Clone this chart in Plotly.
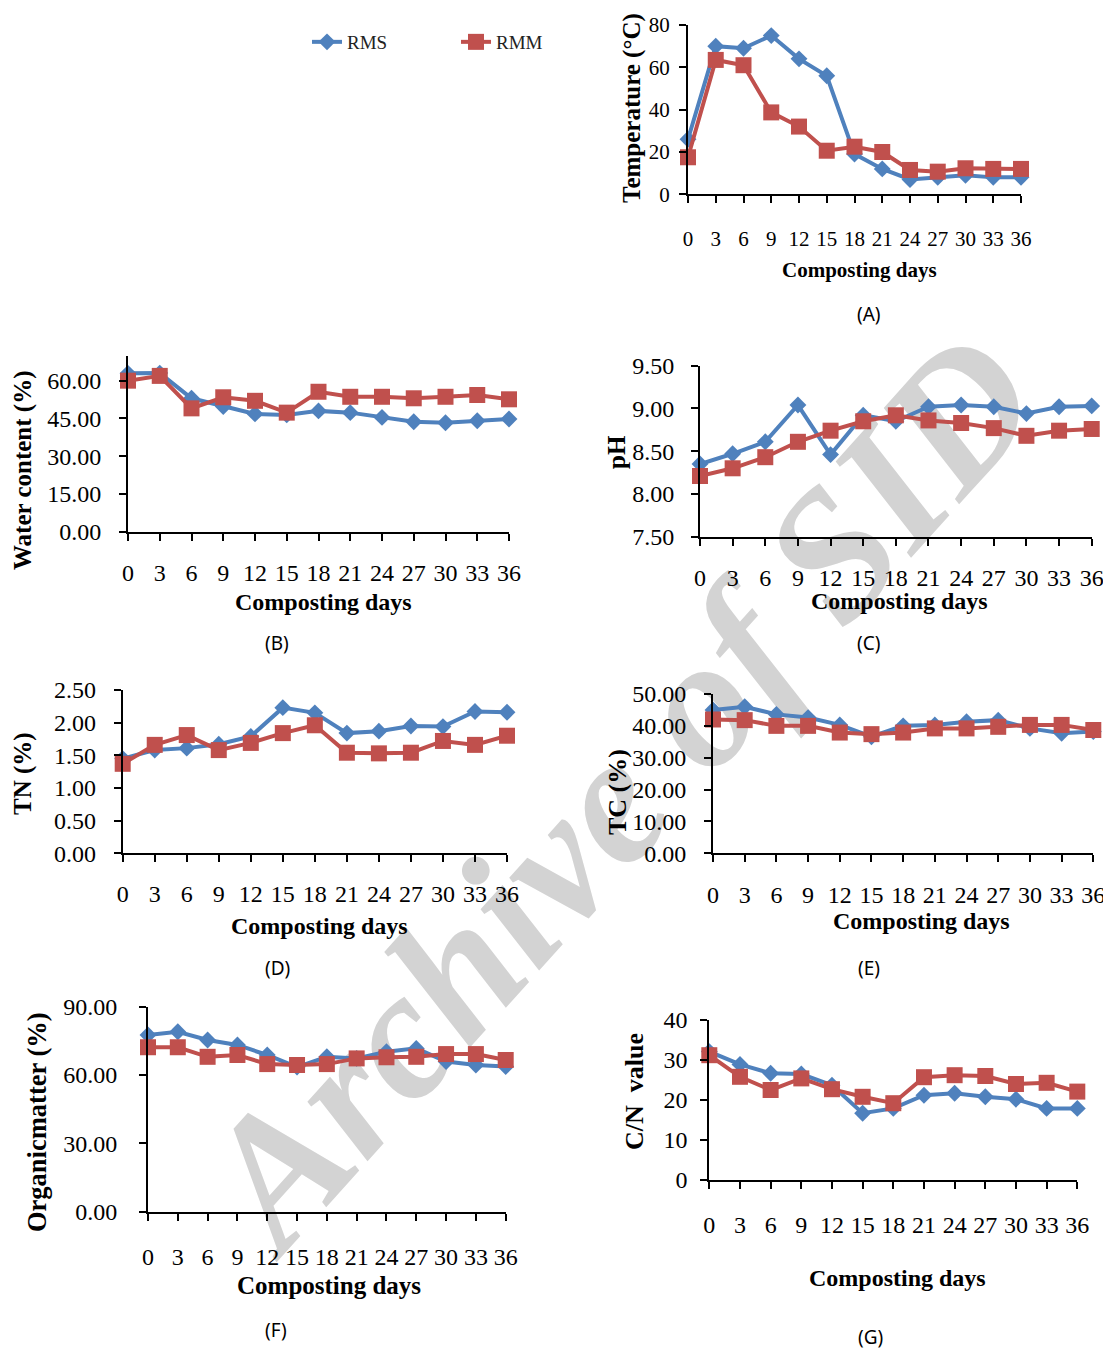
import plotly.graph_objects as go

# page is rendered with an 8px body margin: the figure covers (8..1111, 8..1349)
OFF = 8
W, H = 1111 - OFF, 1349 - OFF

days = [0, 3, 6, 9, 12, 15, 18, 21, 24, 27, 30, 33, 36]

temp_rms = [26, 70, 69, 75, 64, 56, 19, 12, 7, 8, 9, 8, 8]
temp_rmm = [17.5, 63.5, 61, 38.7, 32, 20.6, 22.5, 20, 11.5, 10.7, 12.3, 12, 12]

water_rms = [62.9, 63.0, 53.0, 49.7, 46.8, 46.4, 48.0, 47.3, 45.4, 43.7, 43.3, 44.1, 44.8]
water_rmm = [60.0, 61.9, 49.0, 53.4, 52.0, 47.3, 55.6, 53.6, 53.6, 53.0, 53.6, 54.3, 52.6]

ph_rms = [8.35, 8.47, 8.61, 9.04, 8.46, 8.92, 8.85, 9.02, 9.04, 9.02, 8.94, 9.02, 9.03]
ph_rmm = [8.21, 8.30, 8.43, 8.61, 8.74, 8.85, 8.92, 8.86, 8.83, 8.77, 8.68, 8.74, 8.76]

tn_rms = [1.45, 1.58, 1.61, 1.67, 1.79, 2.23, 2.15, 1.84, 1.87, 1.95, 1.94, 2.17, 2.16]
tn_rmm = [1.37, 1.66, 1.81, 1.58, 1.69, 1.84, 1.96, 1.54, 1.53, 1.54, 1.72, 1.66, 1.80]

tc_rms = [45.0, 46.0, 43.6, 42.6, 40.3, 36.6, 40.0, 40.3, 41.3, 41.8, 39.2, 37.7, 38.2]
tc_rmm = [42.0, 41.8, 40.0, 40.0, 37.9, 37.4, 37.9, 39.2, 39.2, 39.7, 40.3, 40.3, 38.7]

om_rms = [77.6, 79.0, 75.4, 73.2, 68.8, 63.5, 68.0, 67.3, 70.2, 71.7, 65.9, 64.4, 63.7]
om_rmm = [72.2, 72.2, 68.0, 68.8, 64.8, 64.4, 64.8, 67.3, 67.8, 68.0, 69.2, 69.2, 66.6]

cn_rms = [32.1, 28.9, 26.7, 26.5, 23.7, 16.7, 17.9, 21.2, 21.7, 20.8, 20.2, 17.9, 17.9]
cn_rmm = [31.2, 25.8, 22.5, 25.4, 22.7, 20.8, 19.2, 25.7, 26.2, 26.0, 24.0, 24.3, 22.1]

series_names = ["RMS", "RMM"]
panel_letters = ["(A)", "(B)", "(C)", "(D)", "(E)", "(F)", "(G)"]
y_titles = ["Temperature (°C)", "Water content (%)", "pH", "TN (%)", "TC (%)",
            "Organicmatter (%)", "C/N\u00a0\u00a0value"]
x_title = "Composting days"

BLUE = "#4F81BD"
RED = "#C0504D"
SERIF = "Liberation Serif"
SANS = "Noto Sans"

panels = [
    dict(data=(temp_rms, temp_rmm), x0=688, x1=1021, yb=194.3, yt=25, yr=[0, 80],
         yt_vals=[0, 20, 40, 60, 80], fmt="d", fs=21, xlab=240, ylabr=18,
         ytitle=(632, 108, 25), xtitle=(859, 270, 21), letter=(869, 314)),
    dict(data=(water_rms, water_rmm), x0=128, x1=509, yb=531.7, yt=355.5, yr=[0, 70],
         yt_vals=[0, 15, 30, 45, 60], fmt=".2f", fs=24, xlab=573, ylabr=26,
         ytitle=(23, 470, 25), xtitle=(323, 602, 24), letter=(277, 643)),
    dict(data=(ph_rms, ph_rmm), x0=700, x1=1091.7, yb=536.7, yt=365.7, yr=[7.5, 9.5],
         yt_vals=[7.5, 8.0, 8.5, 9.0, 9.5], fmt=".2f", fs=24, xlab=578, ylabr=25,
         ytitle=(616, 452, 25), xtitle=(899, 601, 24), letter=(868, 643)),
    dict(data=(tn_rms, tn_rmm), x0=122.7, x1=507, yb=853.3, yt=690, yr=[0, 2.5],
         yt_vals=[0, 0.5, 1.0, 1.5, 2.0, 2.5], fmt=".2f", fs=24, xlab=894, ylabr=26,
         ytitle=(23, 774, 25), xtitle=(319, 926, 24), letter=(277, 968)),
    dict(data=(tc_rms, tc_rmm), x0=713, x1=1093.3, yb=853.3, yt=694, yr=[0, 50],
         yt_vals=[0, 10, 20, 30, 40, 50], fmt=".2f", fs=24, xlab=895, ylabr=26,
         ytitle=(617, 792, 26), xtitle=(921, 921, 24), letter=(869, 968)),
    dict(data=(om_rms, om_rmm), x0=148, x1=505.7, yb=1211.7, yt=1006.7, yr=[0, 90],
         yt_vals=[0, 30, 60, 90], fmt=".2f", fs=24, xlab=1257, ylabr=30,
         ytitle=(37, 1122, 26.5), xtitle=(329, 1285, 25), letter=(276, 1330)),
    dict(data=(cn_rms, cn_rmm), x0=709.3, x1=1077.3, yb=1180, yt=1020, yr=[0, 40],
         yt_vals=[0, 10, 20, 30, 40], fmt="d", fs=24, xlab=1225, ylabr=21,
         ytitle=(634, 1092, 26), xtitle=(897, 1278, 24), letter=(871, 1337)),
]


def px(x):
    return (x - OFF) / W


def py(y):
    return 1 - (y - OFF) / H


fig = go.Figure()
layout = dict()
annotations = []

for i, p in enumerate(panels):
    n = "" if i == 0 else str(i + 1)
    xa, ya = "x" + n, "y" + n
    rms, rmm = p["data"]
    fig.add_trace(go.Scatter(
        x=days, y=rms, name=series_names[0], xaxis=xa, yaxis=ya,
        mode="lines+markers", line=dict(color=BLUE, width=4),
        marker=dict(symbol="diamond", size=13, color=BLUE),
        cliponaxis=False, showlegend=(i == 0), legendgroup="rms"))
    fig.add_trace(go.Scatter(
        x=days, y=rmm, name=series_names[1], xaxis=xa, yaxis=ya,
        mode="lines+markers", line=dict(color=RED, width=4),
        marker=dict(symbol="square", size=16, color=RED),
        cliponaxis=False, showlegend=(i == 0), legendgroup="rmm"))

    x_stand = max(0, p["xlab"] - p["yb"] - 18 - p["fs"] * 0.5)
    y_stand = max(0, p["ylabr"] - 13)
    layout["xaxis" + n] = dict(
        domain=[px(p["x0"]), px(p["x1"])], anchor=ya, range=[0, 36],
        tickmode="array", tickvals=days, ticktext=[str(d) for d in days],
        ticks="outside", ticklen=7, tickwidth=2, tickcolor="black",
        showline=True, linewidth=2, linecolor="black", showgrid=False,
        zeroline=False, automargin=False, ticklabelstandoff=int(round(x_stand)),
        tickfont=dict(family=SERIF, size=p["fs"], color="black"))
    layout["yaxis" + n] = dict(
        domain=[py(p["yb"]), py(p["yt"])], anchor=xa, range=p["yr"],
        tickmode="array", tickvals=p["yt_vals"], tickformat=p["fmt"],
        ticks="outside", ticklen=7, tickwidth=2, tickcolor="black",
        showline=True, linewidth=2, linecolor="black", showgrid=False,
        zeroline=False, automargin=False, ticklabelstandoff=int(round(y_stand)),
        tickfont=dict(family=SERIF, size=p["fs"], color="black"))

    tx, ty, tfs = p["ytitle"]
    annotations.append(dict(
        text="<b>" + y_titles[i] + "</b>", x=px(tx), y=py(ty), xref="paper", yref="paper",
        textangle=-90, showarrow=False, xanchor="center", yanchor="middle",
        font=dict(family=SERIF, size=tfs, color="black")))
    xx, xy, xfs = p["xtitle"]
    annotations.append(dict(
        text="<b>" + x_title + "</b>", x=px(xx), y=py(xy), xref="paper", yref="paper",
        showarrow=False, xanchor="center", yanchor="middle",
        font=dict(family=SERIF, size=xfs, color="black")))
    lx, ly = p["letter"]
    annotations.append(dict(
        text=panel_letters[i], x=px(lx), y=py(ly), xref="paper", yref="paper",
        showarrow=False, xanchor="center", yanchor="middle",
        font=dict(family=SANS, size=19, color="black")))

fig.update_layout(**layout)

# watermark, drawn beneath the data
fig.add_shape(
    type="rect", xref="paper", yref="paper",
    x0=px(505), x1=px(705), y0=py(875), y1=py(675),
    line=dict(width=0), fillcolor="rgba(0,0,0,0)", layer="below",
    label=dict(text="Archive of SID", textangle=-48, textposition="middle center",
               font=dict(family=SERIF, size=184, color="#d3d3d3",
                         weight="bold", style="italic")))

fig.update_layout(
    width=W, height=H, margin=dict(l=0, r=0, t=0, b=0),
    paper_bgcolor="white", plot_bgcolor="rgba(0,0,0,0)",
    template="none",
    annotations=annotations,
    showlegend=True,
    legend=dict(orientation="h", x=px(307), y=py(42), xanchor="left", yanchor="middle",
                entrywidth=104, entrywidthmode="pixels", itemwidth=30,
                bgcolor="rgba(0,0,0,0)",
                font=dict(family=SERIF, size=19, color="#222222")),
)

fig.write_html("out.html")
